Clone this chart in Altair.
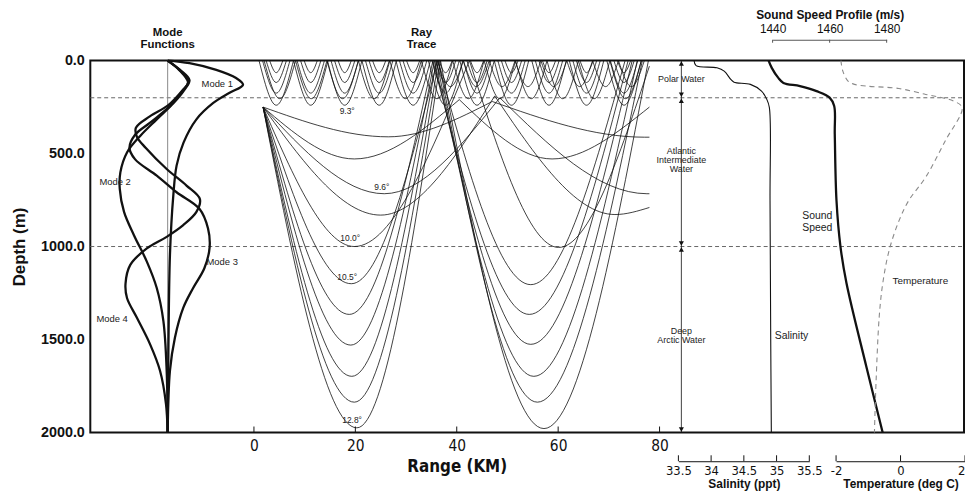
import altair as alt
import pandas as pd

# ---------------- data ----------------
DEPTH_TICKS = [0, 500, 1000, 1500, 2000]
RANGE_TICKS = [0, 20, 40, 60, 80]
SAL_TICKS = [33.5, 34, 34.5, 35, 35.5]
TEMP_TICKS = [-2, 0, 2]
SS_TICKS = [1440, 1460, 1480]
WATER_BOUNDS = [0, 200, 1000, 2000]

# sound speed profile (m/s)
SS_DEPTH = [0, 39, 93, 120, 137, 164, 199, 244, 395, 751, 1000, 1196, 1641, 2000]
SS_VALUE = [1438.6, 1439.7, 1442.0, 1443.8, 1449.6, 1455.4, 1460.0, 1461.6, 1461.8,
            1462.4, 1463.8, 1465.9, 1472.8, 1478.6]
# salinity (ppt)
SAL_DEPTH = [0, 27, 39, 57, 101, 116, 128, 164, 208, 253, 751, 1462, 2000]
SAL_VALUE = [33.74, 33.77, 34.09, 34.20, 34.30, 34.35, 34.60, 34.77, 34.85, 34.89,
             34.90, 34.91, 34.92]
# temperature (deg C)
TEMP_DEPTH = [0, 57, 110, 128, 137, 150, 182, 200, 217, 253, 431, 627, 751, 858,
              1018, 1196, 1374, 1730, 2000]
TEMP_VALUE = [-1.85, -1.79, -1.63, -1.43, -1.08, -0.05, 0.78, 1.29, 1.64, 1.91, 1.39,
              0.78, 0.26, -0.04, -0.35, -0.55, -0.66, -0.76, -0.81]

# normal mode shapes (arbitrary amplitude)
MODE1_DEPTH = [0, 14, 50, 94, 130, 174, 228, 316, 441, 565, 725, 1045, 1579, 2000]
MODE1_AMP = [0, 22, 49, 69, 76, 62, 46, 29, 16, 9, 5.7, 2.3, 0.7, 0]
MODE2_DEPTH = [0, 50, 105, 160, 228, 316, 405, 494, 601, 690, 814, 939, 1081, 1223,
               1401, 1668, 2000]
MODE2_AMP = [0, 12.5, 22, 16.5, 6, -11, -27.7, -41, -47.7, -48.3, -44, -34, -21, -11,
             -4.3, -1, 0]
MODE3_DEPTH = [0, 50, 112, 160, 245, 334, 400, 468, 530, 619, 708, 797, 903, 1005,
               1117, 1223, 1330, 1490, 1668, 2000]
MODE3_AMP = [0, 12, 21, 15.5, 2.3, -17.7, -33, -38.5, -33, -11, 9, 32, 40.7, 42.3, 37,
             25.7, 15.7, 7.3, 2.3, 0]
MODE4_DEPTH = [0, 50, 118, 160, 240, 300, 361, 410, 470, 583, 672, 745, 814, 885, 948,
               1010, 1099, 1200, 1277, 1383, 1526, 1668, 1846, 2000]
MODE4_AMP = [0, 11.5, 20.5, 15, 0.7, -18, -32, -31, -22, -1, 19, 32.5, 29, 15.7, -1,
             -21, -37.7, -42.5, -41, -31, -17.7, -7.7, -1.7, 0]

# ray arcs: (range km, depth m) turning points of each arc
RAY_128 = [[(1.8, 250), (20.3, 1975), (36.8, 0)], [(36.8, 0), (57.2, 1979), (77.8, 0)]]
RAY_2 = [[(1.8, 250), (19.8, 1837), (36.4, 0)], [(36.4, 0), (55.9, 1837), (76.6, 0)]]
RAY_3 = [[(1.8, 250), (19.3, 1698), (36.0, 0)], [(36.0, 0), (55.2, 1698), (75.6, 0)]]
RAY_4 = [[(1.8, 250), (19.1, 1530), (35.6, 0)], [(35.6, 0), (54.6, 1526), (74.6, 0)]]
RAY_5 = [[(1.8, 250), (18.8, 1365), (35.3, 0)], [(35.3, 0), (54.3, 1365), (73.8, 0)]]
RAY_105 = [[(1.8, 250), (19.2, 1200), (36.2, 0)], [(36.2, 0), (54.6, 1205), (73.2, 0)]]
RAY_100 = [[(1.8, 250), (19.8, 1000), (42.5, 0)], [(42.5, 0), (60.1, 1005), (78.0, 30)]]
RAY_831 = [[(1.8, 250), (25.0, 831), (47.5, 190)], [(47.5, 190), (71.2, 828), (78.0, 790)]]
RAY_96 = [[(1.8, 250), (25.7, 716), (48.5, 200)], [(48.5, 200), (77.5, 716), (78.0, 716)]]
RAY_529 = [[(1.8, 250), (19.8, 529), (40.5, 210)], [(40.5, 210), (58.8, 529), (78.0, 250)]]
RAY_93 = [[(1.8, 250), (26.5, 410), (47.0, 220)], [(47.0, 220), (77.0, 412), (78.0, 412)]]
RAYS = [RAY_128, RAY_2, RAY_3, RAY_4, RAY_5, RAY_105, RAY_100, RAY_831, RAY_96,
        RAY_529, RAY_93]

# surface-duct scallops: cell centres (km) and nested arc half-widths / depths
SCALLOP_CENTERS = [4.4, 11.2, 17.9, 24.7, 31.4, 37.8, 44.0, 50.8, 58.2, 65.6, 73.0]
SCALLOP_HALFWIDTH = [3.4, 2.7, 2.0, 1.3]
SCALLOP_DEPTH = [240, 175, 118, 65]
# extra surface-duct rays: surface-bounce ranges (km) and turning depth (m)
SURF_A_CUSPS = [2.0, 8.2, 14.4, 20.6, 26.8, 33.0, 39.2, 45.4, 51.6, 57.8, 64.0, 70.2, 76.4]
SURF_A_DEPTH = 205
SURF_B_CUSPS = [36.2, 41.3, 46.4, 51.5, 56.6, 61.7, 66.8, 71.9, 77.0]
SURF_B_DEPTH = 140

# ---------------- tables ----------------
rows = []
arc_id = 0
for ray in RAYS:
    for arc in ray:
        for km, d in arc:
            rows.append({"km": km, "depth": d, "arc": arc_id})
        arc_id += 1
for c in SCALLOP_CENTERS:
    for hw, d in zip(SCALLOP_HALFWIDTH, SCALLOP_DEPTH):
        for km, dd in [(c - hw, 0), (c, d), (c + hw, 0)]:
            rows.append({"km": km, "depth": dd, "arc": arc_id})
        arc_id += 1
for cusps, depth in [(SURF_A_CUSPS, SURF_A_DEPTH), (SURF_B_CUSPS, SURF_B_DEPTH)]:
    for a, b in zip(cusps[:-1], cusps[1:]):
        for km, dd in [(a, 0), ((a + b) / 2, depth), (b, 0)]:
            rows.append({"km": km, "depth": dd, "arc": arc_id})
        arc_id += 1
rays_df = pd.DataFrame(rows)

mode_rows = []
for name, ds, amps in [("Mode 1", MODE1_DEPTH, MODE1_AMP), ("Mode 2", MODE2_DEPTH, MODE2_AMP),
                       ("Mode 3", MODE3_DEPTH, MODE3_AMP), ("Mode 4", MODE4_DEPTH, MODE4_AMP)]:
    for d, a in zip(ds, amps):
        mode_rows.append({"mode": name, "depth": d, "amp": a})
modes_df = pd.DataFrame(mode_rows)

ss_df = pd.DataFrame({"depth": SS_DEPTH, "speed": SS_VALUE})
sal_df = pd.DataFrame({"depth": SAL_DEPTH, "sal": SAL_VALUE})
temp_df = pd.DataFrame({"depth": TEMP_DEPTH, "temp": TEMP_VALUE})

# ---------------- styling ----------------
W, H = 881, 375
SANS = "Liberation Sans, Arial, Helvetica, sans-serif"
NARROW = "DejaVu Sans Condensed, Liberation Sans Narrow, sans-serif"
INK = "#111111"

y_scale = alt.Scale(domain=[0, 2000], reverse=True, nice=False, zero=False)
y_axis = alt.Axis(values=DEPTH_TICKS, format=".1f", ticks=False, domain=False, grid=False,
                  labelFont=SANS, labelFontWeight="bold", labelFontSize=14.5, labelColor=INK,
                  labelPadding=6, labelFlush=False, labelOverlap=False,
                  title="Depth (m)", titleFont=SANS, titleFontSize=17, titleFontWeight="bold",
                  titleColor=INK, titlePadding=12)


def Y(field="depth"):
    return alt.Y(f"{field}:Q", scale=y_scale, axis=y_axis)


mode_scale = alt.Scale(domain=[-80, 80], range=[-2, 158], nice=False, zero=False)
range_scale = alt.Scale(domain=[0, 80], range=[165, 574], nice=False, zero=False)
sal_scale = alt.Scale(domain=[33.5, 35.5], range=[593, 725], nice=False, zero=False)
temp_scale = alt.Scale(domain=[-2, 2], range=[752, 882], nice=False, zero=False)
ss_scale = alt.Scale(domain=[1440, 1480], range=[688, 803], nice=False, zero=False)

range_axis = alt.Axis(values=RANGE_TICKS, format="d", ticks=False, domain=False, grid=False,
                      labelFont=NARROW, labelFontSize=15.5, labelPadding=6, labelColor=INK,
                      labelFlush=False, labelOverlap=False,
                      title="Range (KM)", titleFont=NARROW, titleFontSize=17,
                      titleFontWeight="bold", titlePadding=5, titleColor=INK)


def small_axis(values, fmt, title, align, orient="bottom", offset=29, lp=3, tp=1):
    return alt.Axis(values=values, format=fmt, orient=orient, offset=offset, ticks=False,
                    domain=True, domainColor=INK, domainWidth=1, grid=False,
                    labelFont=NARROW, labelFontSize=13, labelColor=INK, labelPadding=lp,
                    labelFlush=False, labelOverlap=False, labelAlign=align,
                    labelExpr="replace(datum.label, '\u2212', '-')",
                    title=title, titleFont=SANS, titleFontSize=12, titleFontWeight="bold",
                    titleColor=INK, titlePadding=tp)


sal_axis = small_axis(SAL_TICKS, "~g", "Salinity (ppt)", "center")
temp_axis = small_axis(TEMP_TICKS, "d", "Temperature (deg C)",
                       {"condition": {"test": "datum.value >= 2", "value": "right"},
                        "value": "center"})
ss_axis = alt.Axis(values=SS_TICKS, format="d", orient="top", offset=21, ticks=False,
                   domain=True, domainColor="#555", domainWidth=1, grid=False,
                   labelFont=SANS, labelFontSize=12, labelColor=INK, labelPadding=4,
                   labelFlush=False, labelOverlap=False,
                   title="Sound Speed Profile (m/s)", titleFont=SANS, titleFontSize=12,
                   titleFontWeight="bold", titleColor=INK, titlePadding=1)

layers = []

# dashed water-mass boundaries
bounds_df = pd.DataFrame({"depth": WATER_BOUNDS[1:3]})
layers.append(alt.Chart(bounds_df).mark_rule(color="#666", strokeDash=[4, 3], strokeWidth=1)
              .encode(y=Y(), x=alt.value(0), x2=alt.value(W)))

# mode function centre line + modes
layers.append(alt.Chart(pd.DataFrame({"amp": [0], "depth": [0], "depth2": [2000]}))
              .mark_rule(color="#888", strokeWidth=1)
              .encode(x=alt.X("amp:Q", scale=mode_scale, axis=None), y=Y(), y2="depth2:Q"))
layers.append(alt.Chart(modes_df).mark_line(color=INK, strokeWidth=2.3,
                                            interpolate="catmull-rom")
              .encode(x=alt.X("amp:Q", scale=mode_scale, axis=None), y=Y(),
                      detail="mode:N", order="depth:Q"))

# ray trace
layers.append(alt.Chart(rays_df).mark_line(color=INK, strokeWidth=0.8, interpolate="monotone")
              .encode(x=alt.X("km:Q", scale=range_scale, axis=range_axis), y=Y(),
                      detail="arc:N"))
layers.append(alt.Chart(pd.DataFrame({"km": RANGE_TICKS})).mark_rule(color=INK, strokeWidth=1)
              .encode(x=alt.X("km:Q", scale=range_scale, axis=None),
                      y=alt.value(H), y2=alt.value(H - 6)))

# salinity
layers.append(alt.Chart(sal_df).mark_line(color=INK, strokeWidth=1.1,
                                          interpolate="catmull-rom")
              .encode(x=alt.X("sal:Q", scale=sal_scale, axis=sal_axis), y=Y(),
                      order="depth:Q"))
layers.append(alt.Chart(pd.DataFrame({"sal": SAL_TICKS})).mark_rule(color=INK, strokeWidth=1)
              .encode(x=alt.X("sal:Q", scale=sal_scale, axis=None),
                      y=alt.value(H + 29), y2=alt.value(H + 23)))

# sound speed
layers.append(alt.Chart(ss_df).mark_line(color=INK, strokeWidth=2.3,
                                         interpolate="catmull-rom")
              .encode(x=alt.X("speed:Q", scale=ss_scale, axis=ss_axis), y=Y(),
                      order="depth:Q"))
layers.append(alt.Chart(pd.DataFrame({"speed": SS_TICKS})).mark_rule(color="#555", strokeWidth=1)
              .encode(x=alt.X("speed:Q", scale=ss_scale, axis=None),
                      y=alt.value(-21), y2=alt.value(-18)))

# temperature
layers.append(alt.Chart(temp_df).mark_line(color="#8a8a8a", strokeWidth=1.1,
                                           strokeDash=[5, 4], interpolate="catmull-rom")
              .encode(x=alt.X("temp:Q", scale=temp_scale, axis=temp_axis), y=Y(),
                      order="depth:Q"))
layers.append(alt.Chart(pd.DataFrame({"temp": TEMP_TICKS})).mark_rule(color=INK, strokeWidth=1)
              .encode(x=alt.X("temp:Q", scale=temp_scale, axis=None),
                      y=alt.value(H + 29), y2=alt.value(H + 23)))

# water mass arrows
ARROW_X = 596
layers.append(alt.Chart(pd.DataFrame({"depth": [0], "depth2": [2000]}))
              .mark_rule(color=INK, strokeWidth=0.8)
              .encode(x=alt.value(ARROW_X), y=Y(), y2="depth2:Q"))
layers.append(alt.Chart(pd.DataFrame({"depth": WATER_BOUNDS[1:]}))
              .mark_point(shape="triangle-down", filled=True, color=INK, size=26, yOffset=-3,
                          opacity=1)
              .encode(x=alt.value(ARROW_X), y=Y()))
layers.append(alt.Chart(pd.DataFrame({"depth": WATER_BOUNDS[:-1]}))
              .mark_point(shape="triangle-up", filled=True, color=INK, size=26, yOffset=3,
                          opacity=1)
              .encode(x=alt.value(ARROW_X), y=Y()))


def label(text, x, y, size=9.5, weight="normal", color="#222", font=SANS, align="center"):
    return (alt.Chart(alt.Data(values=[{}]))
            .mark_text(text=text, fontSize=size, fontWeight=weight, color=color, font=font,
                       align=align, baseline="middle")
            .encode(x=alt.value(x), y=alt.value(y)))


TEXTS = [
    ("Mode", 78, -28, 11.5, "bold", INK), ("Functions", 78, -15.5, 11.5, "bold", INK),
    ("Ray", 334, -28, 11.5, "bold", INK), ("Trace", 334, -15.5, 11.5, "bold", INK),
    ("Mode 1", 128, 24, 9.5, "normal", "#222"), ("Mode 2", 25, 122.7, 9.5, "normal", "#222"),
    ("Mode 3", 133, 202.7, 9.5, "normal", "#222"), ("Mode 4", 22, 261, 9.5, "normal", "#222"),
    ("9.3°", 259, 51, 8.5, "normal", "#222"), ("9.6°", 294, 127.7, 8.5, "normal", "#222"),
    ("10.0°", 262, 179, 8.5, "normal", "#222"), ("10.5°", 259, 218, 8.5, "normal", "#222"),
    ("12.8°", 264, 362.7, 8.5, "normal", "#222"),
    ("Polar Water", 596, 19, 9, "normal", "#222"),
    ("Atlantic", 596, 91, 9, "normal", "#222"), ("Intermediate", 596, 100, 9, "normal", "#222"),
    ("Water", 596, 109, 9, "normal", "#222"),
    ("Deep", 596, 273, 9, "normal", "#222"), ("Arctic Water", 596, 282, 9, "normal", "#222"),
    ("Salinity", 707, 278, 10.5, "normal", "#222"),
    ("Sound", 733, 156.7, 10.5, "normal", "#222"), ("Speed", 733, 169, 10.5, "normal", "#222"),
    ("Temperature", 837, 222.7, 10, "normal", "#222"),
]
for t, x, y, s, w, c in TEXTS:
    layers.append(label(t, x, y, s, w, c))

chart = (alt.layer(*layers)
         .resolve_scale(x="independent")
         .properties(width=W, height=H,
                     autosize=alt.AutoSizeParams(type="none"),
                     padding={"left": 83, "top": 51, "right": 1, "bottom": 58},
                     background="white")
         .configure_view(stroke=INK, strokeWidth=2))

chart.save("out.html", embed_options={"renderer": "svg", "actions": False})
